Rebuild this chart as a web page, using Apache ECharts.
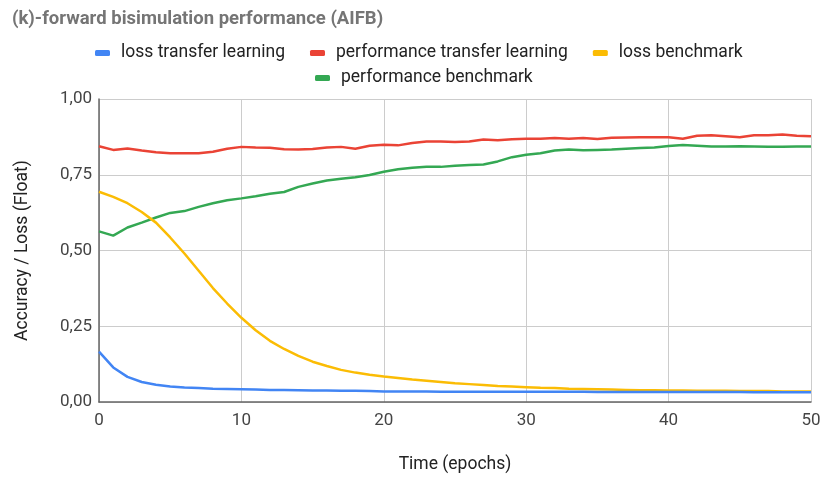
<!DOCTYPE html>
<html><head><meta charset="utf-8">
<script src="https://cdn.jsdelivr.net/npm/echarts@6/dist/echarts.min.js"></script>
<style>html,body{margin:0;padding:0;background:#fff;overflow:hidden}#c{width:826px;height:479px}</style>
</head><body><div id="c"></div>
<script>
const epochs = [0,1,2,3,4,5,6,7,8,9,10,11,12,13,14,15,16,17,18,19,20,21,22,23,24,25,26,27,28,29,30,31,32,33,34,35,36,37,38,39,40,41,42,43,44,45,46,47,48,49,50];
const lossTransfer = [0.166,0.114,0.083,0.066,0.057,0.051,0.048,0.046,0.044,0.043,0.042,0.041,0.040,0.040,0.039,0.038,0.038,0.037,0.037,0.036,0.035,0.035,0.035,0.035,0.034,0.034,0.034,0.034,0.034,0.034,0.034,0.034,0.034,0.034,0.034,0.033,0.033,0.033,0.033,0.033,0.033,0.033,0.033,0.033,0.033,0.033,0.032,0.032,0.032,0.032,0.032];
const perfTransfer = [0.844,0.832,0.837,0.830,0.824,0.821,0.821,0.821,0.826,0.836,0.842,0.840,0.839,0.834,0.833,0.835,0.840,0.842,0.836,0.846,0.849,0.847,0.855,0.860,0.860,0.858,0.860,0.866,0.864,0.867,0.869,0.869,0.871,0.869,0.871,0.868,0.872,0.873,0.874,0.874,0.874,0.869,0.879,0.880,0.877,0.874,0.880,0.880,0.883,0.879,0.877];
const lossBench = [0.694,0.677,0.656,0.627,0.592,0.543,0.490,0.433,0.376,0.325,0.278,0.237,0.202,0.175,0.152,0.133,0.119,0.106,0.097,0.090,0.084,0.079,0.074,0.070,0.066,0.062,0.059,0.056,0.053,0.051,0.049,0.047,0.046,0.044,0.043,0.042,0.041,0.040,0.039,0.039,0.038,0.038,0.037,0.037,0.037,0.036,0.036,0.036,0.035,0.035,0.035];
const perfBench = [0.563,0.549,0.576,0.592,0.609,0.624,0.630,0.644,0.656,0.666,0.672,0.679,0.687,0.693,0.710,0.721,0.731,0.737,0.742,0.749,0.760,0.768,0.773,0.776,0.776,0.780,0.782,0.784,0.794,0.808,0.816,0.821,0.830,0.833,0.831,0.832,0.833,0.836,0.838,0.840,0.845,0.848,0.846,0.843,0.843,0.844,0.843,0.842,0.842,0.843,0.843];
const seriesNames = ['loss transfer learning','performance transfer learning','loss benchmark','performance benchmark'];
const yTicks = [0, 0.25, 0.5, 0.75, 1];
const xTicks = [0, 10, 20, 30, 40, 50];
const colors = ['#4285F4','#EA4335','#FBBC04','#34A853'];
const pairs = a => a.map((v,i)=>[epochs[i], v]);
const FONT = 'Roboto';
const chart = echarts.init(document.getElementById('c'), null, {renderer:'canvas', width: 826, height: 479});
const legendCommon = {
  icon: 'roundRect', itemWidth: 15, itemHeight: 6, itemGap: 25, padding: 0,
  textStyle: {fontFamily: FONT, fontSize: 17.5, color: '#222', padding:[0,0,0,6]}
};
chart.setOption({
  animation: false,
  color: colors,
  title: {text: '(k)-forward bisimulation performance (AIFB)', left: 12, top: 10, padding: 0,
    textStyle: {fontFamily: FONT, fontSize: 18.5, fontWeight: 'bold', color: '#757575'}},
  legend: [
    Object.assign({}, legendCommon, {left: 95, top: 44, data: seriesNames.slice(0,3)}),
    Object.assign({}, legendCommon, {left: 315, top: 69, data: seriesNames.slice(3)})
  ],
  grid: {left: 99, width: 712, top: 99, height: 305, containLabel: false},
  xAxis: {type: 'value', min: xTicks[0], max: xTicks[xTicks.length-1], interval: 10,
    name: 'Time (epochs)', nameLocation: 'middle', nameGap: 54,
    nameTextStyle: {fontFamily: FONT, fontSize: 17.5, color: '#222'},
    axisLine: {show: true, lineStyle: {color: '#666', width: 1.5}},
    axisTick: {show: false},
    axisLabel: {fontFamily: FONT, fontSize: 17, color: '#444', margin: 10},
    splitLine: {show: true, lineStyle: {color: '#ccc', width: 1}}},
  yAxis: {type: 'value', min: yTicks[0], max: yTicks[yTicks.length-1], interval: 0.25,
    name: 'Accuracy / Loss (Float)', nameLocation: 'middle', nameGap: 67, nameRotate: 90,
    nameTextStyle: {fontFamily: FONT, fontSize: 17.5, color: '#222'},
    axisLine: {show: true, lineStyle: {color: '#666', width: 1.5}},
    axisTick: {show: false},
    axisLabel: {fontFamily: FONT, fontSize: 17, color: '#444', margin: 7,
      formatter: v => v.toFixed(2).replace('.', ',')},
    splitLine: {show: true, lineStyle: {color: '#ccc', width: 1}}},
  series: [lossTransfer, perfTransfer, lossBench, perfBench].map((d,i)=>({
    name: seriesNames[i], type: 'line', data: pairs(d), showSymbol: false, symbol: 'none',
    lineStyle: {width: 2.5, color: colors[i]}, itemStyle: {color: colors[i]}, z: 10 - i
  }))
});
</script></body></html>
